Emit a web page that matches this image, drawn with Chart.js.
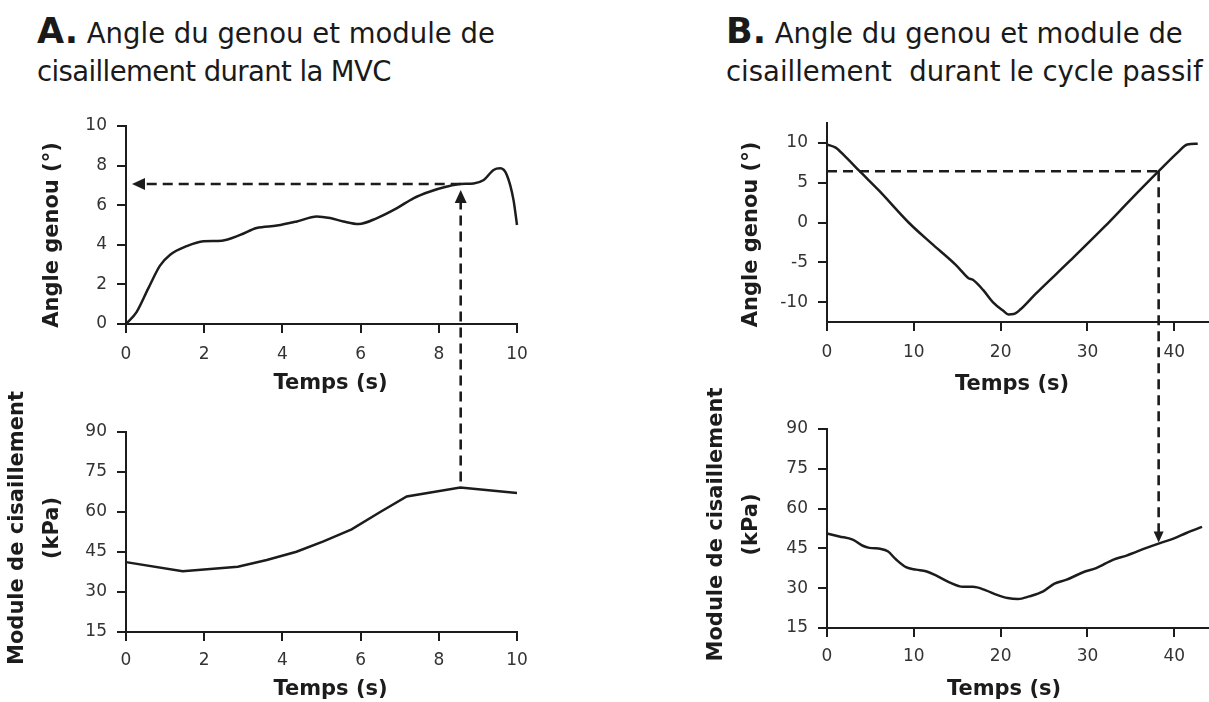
<!DOCTYPE html>
<html lang="fr">
<head>
<meta charset="utf-8">
<title>Angle du genou et module de cisaillement</title>
<script src="https://cdn.jsdelivr.net/npm/chart.js@4.4.1/dist/chart.umd.min.js"></script>
<style>
  html, body { margin: 0; padding: 0; background: #fff; }
  #page { position: relative; width: 1209px; height: 702px; overflow: hidden;
          font-family: 'DejaVu Sans', sans-serif; color: #1a1a1a; }
  .head { position: absolute; font-size: 27.5px; line-height: 38px; white-space: pre; }
  .head b { font-size: 35px; }
  .tight { letter-spacing: -0.6px; }
  canvas { position: absolute; }
  #guides { left: 0; top: 0; pointer-events: none; }
</style>
</head>
<body>
<div id="page">
  <div class="head" style="left:37px; top:12px;"><b>A.</b> Angle du genou et module de
<span class="tight">cisaillement durant la MVC</span></div>
  <div class="head" style="left:726px; top:12px;"><b>B.</b> Angle du genou et module de
cisaillement  durant le cycle passif</div>

  <canvas id="angle-a" width="560" height="310" style="left:0; top:100px;"></canvas>
  <canvas id="module-a" width="560" height="342" style="left:0; top:360px;"></canvas>
  <canvas id="angle-b" width="509" height="310" style="left:700px; top:100px;"></canvas>
  <canvas id="module-b" width="509" height="342" style="left:700px; top:360px;"></canvas>
  <canvas id="guides" width="1209" height="702"></canvas>
</div>

<script>
// --- A: MVC ---
const timeAngleA = [0, 0.27, 0.57, 0.87, 1.13, 1.55, 1.98, 2.45, 2.92, 3.34, 3.86, 4.37, 4.88, 5.22,
                    5.56, 5.95, 6.42, 6.93, 7.35, 7.78, 8.21, 8.55, 8.89, 9.15, 9.40, 9.57, 9.74, 9.91, 10.0];
const angleA = [0, 0.6, 1.8, 2.95, 3.5, 3.93, 4.18, 4.21, 4.5, 4.85, 4.97, 5.18, 5.43, 5.35,
                5.18, 5.05, 5.35, 5.85, 6.35, 6.69, 6.94, 7.07, 7.1, 7.27, 7.78, 7.86, 7.53, 6.27, 5.0];

const timeModuleA = [0, 1.45, 2.86, 3.6, 4.36, 5.05, 5.77, 6.48, 7.18, 8.55, 10];
const moduleA = [41.2, 37.8, 39.5, 42.0, 45.1, 49.0, 53.5, 59.8, 65.8, 69.2, 67.1];

// --- B: passive cycle ---
const timeAngleB = [0, 1.0, 2.0, 3.76, 6.0, 9.4, 12.0, 14.8, 16.0, 16.3, 16.8, 18.0, 19.1, 20.3,
                    20.9, 21.5, 22.3, 24.0, 28.0, 32.0, 35.0, 38.2, 40.5, 41.5, 42.7];
const angleB = [9.8, 9.4, 8.4, 6.44, 4.0, 0, -2.6, -5.3, -6.7, -7.0, -7.2, -8.5, -10.0, -11.1,
                -11.55, -11.5, -10.9, -9.0, -4.8, -0.5, 2.9, 6.44, 8.9, 9.8, 9.9];

const timeModuleB = [0, 1.42, 2.96, 4.12, 4.88, 6.23, 7.0, 7.96, 9.1, 10.27, 11.4, 12.6, 14.1, 15.65,
                     16.8, 18.3, 19.5, 20.8, 22.0, 23.3, 24.9, 26.2, 27.6, 29.5, 31.0, 33.0, 34.5,
                     36.8, 38.35, 39.9, 41.4, 43.2];
const moduleB = [50.6, 49.5, 48.3, 46.0, 45.2, 44.8, 43.9, 40.8, 37.9, 37.0, 36.4, 34.7, 32.2, 30.5,
                 30.5, 29.2, 27.6, 26.3, 25.9, 26.9, 28.8, 31.7, 33.2, 36.0, 37.6, 40.8, 42.3,
                 45.2, 47.0, 48.7, 50.8, 53.1];

// Tick values
const ticksTimeA = [0, 2, 4, 6, 8, 10];
const ticksAngleA = [0, 2, 4, 6, 8, 10];
const ticksTimeB = [0, 10, 20, 30, 40];
const ticksAngleB = [-10, -5, 0, 5, 10];
const ticksModule = [15, 30, 45, 60, 75, 90];

// Reading guides (dashed arrows)
const mvcTime = 8.56, mvcAngle = 7.07, mvcModule = 69.2;
const passiveTime = 38.2, passiveAngle = 6.44, passiveModule = 46.8;

const INK = '#1c1c1c';
const FONT = "'DejaVu Sans', sans-serif";

function axis(min, max, tickValues, size, isX, labelPad) {
  return {
    type: 'linear',
    min: min,
    max: max,
    grid: { drawOnChartArea: false, drawTicks: true, tickLength: 9, tickWidth: 2,
            tickColor: INK, color: INK, lineWidth: 2 },
    border: { display: true, color: INK, width: 2 },
    ticks: { color: '#333', font: { family: FONT, size: 17 }, padding: labelPad,
             autoSkip: false, maxRotation: 0, callback: v => String(v) },
    afterBuildTicks: s => { s.ticks = tickValues.map(v => ({ value: v })); },
    afterFit: s => {
      if (isX) s.height = size; else s.width = size;
      s.paddingLeft = s.paddingRight = s.paddingTop = s.paddingBottom = 0;
    }
  };
}

// Axis titles drawn at fixed offsets from the plot area
const axisTitles = {
  id: 'axisTitles',
  afterDraw(chart, args, opts) {
    const ctx = chart.ctx;
    const a = chart.chartArea;
    ctx.save();
    ctx.fillStyle = INK;
    ctx.font = 'bold 21px ' + FONT;
    ctx.textAlign = 'center';
    ctx.textBaseline = 'middle';
    ctx.fillText(opts.x.text, (a.left + a.right) / 2 + opts.x.dx, a.bottom + opts.x.dy);
    const cy = (a.top + a.bottom) / 2 + opts.y.dy;
    opts.y.lines.forEach((line, i) => {
      ctx.save();
      ctx.translate(a.left - opts.y.dx[i], cy);
      ctx.rotate(-Math.PI / 2);
      ctx.fillText(line, 0, 0);
      ctx.restore();
    });
    ctx.restore();
  }
};

function lineChart(id, xs, ys, xScale, yScale, pad, titles, smooth) {
  return new Chart(document.getElementById(id), {
    type: 'line',
    data: {
      datasets: [{
        data: xs.map((x, i) => ({ x: x, y: ys[i] })),
        borderColor: INK,
        borderWidth: 2.5,
        pointRadius: 0,
        cubicInterpolationMode: smooth ? 'monotone' : 'default',
        tension: 0,
        fill: false,
        clip: false
      }]
    },
    options: {
      responsive: false,
      animation: false,
      events: [],
      layout: { padding: pad },
      plugins: { legend: { display: false }, tooltip: { enabled: false }, axisTitles: titles },
      scales: { x: xScale, y: yScale }
    },
    plugins: [axisTitles]
  });
}

const angleChartA = lineChart('angle-a', timeAngleA, angleA,
  axis(0, 10, ticksTimeA, 86, true, 11),
  axis(0, 10, ticksAngleA, 126, false, 10),
  { top: 26, right: 43, left: 0, bottom: 0 },
  { x: { text: 'Temps (s)', dx: 9, dy: 60 }, y: { lines: ['Angle genou (°)'], dx: [73], dy: 10 } },
  true);

// the modulus during MVC is sampled sparsely: straight segments
const moduleChartA = lineChart('module-a', timeModuleA, moduleA,
  axis(0, 10, ticksTimeA, 70, true, 9),
  axis(15, 90, ticksModule, 126, false, 10),
  { top: 72, right: 43, left: 0, bottom: 0 },
  { x: { text: 'Temps (s)', dx: 9, dy: 58 },
    y: { lines: ['Module de cisaillement', '(kPa)'], dx: [108, 73], dy: -4 } },
  false);

const angleChartB = lineChart('angle-b', timeAngleB, angleB,
  axis(0, 44, ticksTimeB, 88, true, 11),
  axis(-12.5, 12.5, ticksAngleB, 127, false, 10),
  { top: 23, right: 0, left: 0, bottom: 0 },
  { x: { text: 'Temps (s)', dx: -6, dy: 63 }, y: { lines: ['Angle genou (°)'], dx: [75], dy: 12 } },
  true);

const moduleChartB = lineChart('module-b', timeModuleB, moduleB,
  axis(0, 44, ticksTimeB, 74, true, 9),
  axis(15, 90, ticksModule, 127, false, 10),
  { top: 69, right: 0, left: 0, bottom: 0 },
  { x: { text: 'Temps (s)', dx: -14, dy: 62 },
    y: { lines: ['Module de cisaillement', '(kPa)'], dx: [110, 75], dy: -4 } },
  true);

// Dashed guides across the stacked panels
function pageX(chart, v) { return chart.canvas.offsetLeft + chart.scales.x.getPixelForValue(v); }
function pageY(chart, v) { return chart.canvas.offsetTop + chart.scales.y.getPixelForValue(v); }

function dashed(ctx, x1, y1, x2, y2) {
  ctx.beginPath();
  ctx.moveTo(x1, y1);
  ctx.lineTo(x2, y2);
  ctx.stroke();
}

// filled arrow head with its tip at (x, y), pointing along (dx, dy)
function arrowHead(ctx, x, y, dx, dy, len, half) {
  const bx = x - dx * len, by = y - dy * len;
  ctx.beginPath();
  ctx.moveTo(x, y);
  ctx.lineTo(bx - dy * half, by + dx * half);
  ctx.lineTo(bx + dy * half, by - dx * half);
  ctx.closePath();
  ctx.fill();
}

function drawGuides() {
  const ctx = document.getElementById('guides').getContext('2d');
  ctx.strokeStyle = INK;
  ctx.fillStyle = INK;
  ctx.lineWidth = 2.6;
  ctx.setLineDash([10, 6]);

  // A: angle at the point of interest, then down to the shear modulus
  const ax = pageX(angleChartA, mvcTime);
  const ay = pageY(angleChartA, mvcAngle);
  const leftTip = pageX(angleChartA, 0) + 6;
  dashed(ctx, ax, ay, leftTip + 12, ay);
  const upTip = ay + 6;
  const modTop = pageY(moduleChartA, mvcModule) - 6;
  dashed(ctx, ax, modTop, ax, upTip + 12);

  // B: horizontal reading from the axis, then down to the modulus curve
  const bx = pageX(angleChartB, passiveTime);
  const by = pageY(angleChartB, passiveAngle);
  dashed(ctx, pageX(angleChartB, 0), by, bx, by);
  const downTip = pageY(moduleChartB, passiveModule) - 1;
  dashed(ctx, bx, by, bx, downTip - 10);

  ctx.setLineDash([]);
  arrowHead(ctx, leftTip, ay, -1, 0, 13, 6);
  arrowHead(ctx, ax, upTip, 0, -1, 13, 6);
  arrowHead(ctx, bx, downTip, 0, 1, 11, 5);
}

drawGuides();
</script>
</body>
</html>
